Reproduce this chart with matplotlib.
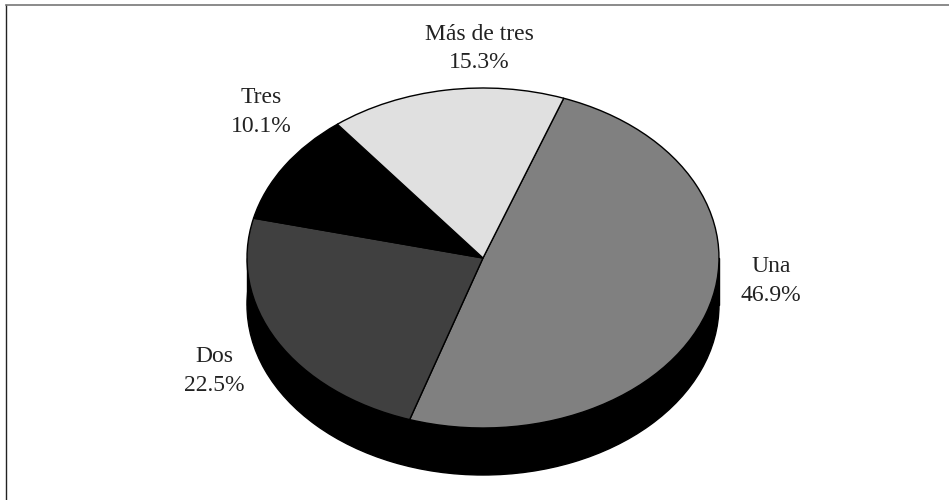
import matplotlib.pyplot as plt
from matplotlib.lines import Line2D
from matplotlib.patches import Rectangle

plt.rcParams['font.family'] = ['Liberation Serif', 'DejaVu Serif']

labels = ['Una', 'Dos', 'Tres', 'Más de tres']
pcts = [46.9, 22.5, 10.1, 15.3]
colors = ['#808080', '#404040', '#000000', '#e0e0e0']

W, H = 949, 500
fig = plt.figure(figsize=(W/100, H/100), dpi=100)
ax = fig.add_axes([0, 0, 1, 1])

cx, cy = 483, 258
rx, ry = 236, 170
depth = 47

# side of the pie, black
ax.add_patch(Rectangle((-1, -depth/ry), 2, depth/ry, fc='black', ec='black', lw=1))
ax.pie([1], colors=['black'], center=(0, -depth/ry), radius=1,
       wedgeprops=dict(edgecolor='black', linewidth=1))

# top of the pie
ax.pie(pcts, colors=colors, startangle=70, counterclock=False, radius=1,
       wedgeprops=dict(edgecolor='black', linewidth=1))

ax.set_aspect('auto')
ax.set_xlim(-cx/rx, (W-cx)/rx)
ax.set_ylim(-(H-cy)/ry, cy/ry)
ax.axis('off')

# frame, only top and left show
fig.add_artist(Line2D([5.5/W, 5.5/W], [0, 1-4.5/H], transform=fig.transFigure,
                      color='#222222', lw=1))
fig.add_artist(Line2D([5.5/W, 1], [1-4.5/H, 1-4.5/H], transform=fig.transFigure,
                      color='#777777', lw=1.2))

label_pos = [(771, 281), (214, 371), (261, 112), (479, 48.5)]
for name, p, (x, y) in zip(labels, pcts, label_pos):
    ax.text((x-cx)/rx, (cy-y)/ry, f'{name}\n{p}%', ha='center', va='center',
            fontsize=17, linespacing=1.5, color='#222222')

fig.savefig('out.png', dpi=100)
